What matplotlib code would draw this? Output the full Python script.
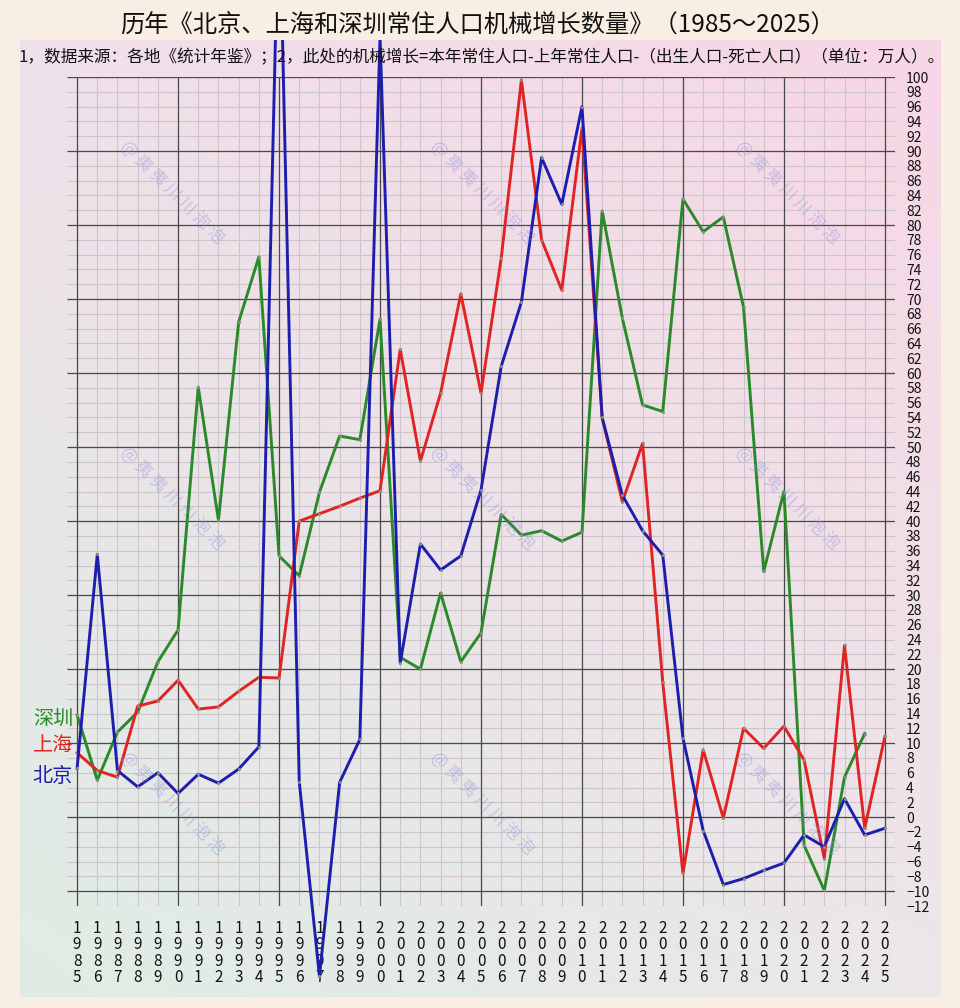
import numpy as np
import matplotlib
matplotlib.use("Agg")
import matplotlib.pyplot as plt
from matplotlib.transforms import Bbox, TransformedBbox

plt.rcParams['font.family'] = ['Noto Sans CJK SC', 'DejaVu Sans']

years = list(range(1985, 2026))

# 万人 (1995 / 2000 Beijing run off the top)
beijing = [6.6, 35.5, 6.3, 4.1, 6.0, 3.2, 5.8, 4.6, 6.5, 9.5,
           126.0, 4.8, -21.5, 4.7, 10.5, 105.5, 20.8, 36.9, 33.4, 35.3,
           44.2, 60.9, 69.6, 89.1, 82.8, 96.0, 54.0, 43.5, 38.7, 35.4,
           10.7, -1.8, -9.1, -8.3, -7.2, -6.2, -2.4, -4.0, 2.5, -2.4, -1.5]
shanghai = [8.7, 6.3, 5.4, 15.0, 15.7, 18.5, 14.6, 14.9, 17.0, 18.9,
            18.8, 40.0, 41.0, 42.0, 43.1, 44.1, 63.2, 48.1, 57.3, 70.7,
            57.3, 75.5, 99.6, 78.0, 71.2, 93.1, 53.9, 42.6, 50.5, 18.2,
            -7.6, 9.1, -0.1, 12.0, 9.3, 12.3, 7.7, -5.6, 23.2, -1.5, 10.9]
shenzhen = [13.8, 5.0, 11.5, 14.2, 21.0, 25.3, 58.1, 40.1, 66.9, 75.7,
            35.3, 32.6, 43.9, 51.5, 51.0, 67.3, 21.6, 20.0, 30.3, 21.0,
            24.9, 40.9, 38.1, 38.7, 37.3, 38.5, 81.9, 67.4, 55.7, 54.8,
            83.5, 79.1, 81.1, 68.9, 33.2, 44.0, -3.8, -9.9, 5.4, 11.3]

series = [("深圳", shenzhen, "#2a8a2a"),
          ("上海", shanghai, "#e02424"),
          ("北京", beijing, "#1e1eae")]

title = "历年《北京、上海和深圳常住人口机械增长数量》（1985～2025）"
note = ("1，数据来源：各地《统计年鉴》；2，此处的机械增长=本年常住人口-上年常住人口-"
        "（出生人口-死亡人口）（单位：万人）。")
watermark = "@ 夷 夷 川 川 泡 泡"

W, H = 960, 1008
fig = plt.figure(figsize=(W / 100, H / 100), dpi=100)
fig.patch.set_facecolor("#f8eee4")

# panel with soft gradient background
px0, px1, py0, py1 = 20, 940, 40, 997
bg = fig.add_axes([px0 / W, 1 - py1 / H, (px1 - px0) / W, (py1 - py0) / H])
tl = np.array(matplotlib.colors.to_rgb("#efe1ea"))
tr = np.array(matplotlib.colors.to_rgb("#f8d6e5"))
bl = np.array(matplotlib.colors.to_rgb("#dfede4"))
br = np.array(matplotlib.colors.to_rgb("#ebe7ea"))
u = np.linspace(0, 1, 200)[None, :, None]
v = np.linspace(0, 1, 200)[:, None, None]
img = (1 - v) * ((1 - u) * tl + u * tr) + v * ((1 - u) * bl + u * br)
bg.imshow(img, aspect="auto", interpolation="bilinear")
bg.axis("off")

ax = fig.add_axes([67 / W, 1 - 906 / H, (895 - 67) / W, (906 - 77) / H])
ax.set_facecolor("none")
ax.set_xlim(1984.5, 2025.5)
ax.set_ylim(-12, 100)
for s in ax.spines.values():
    s.set_visible(False)

# grid
ax.hlines(range(-12, 101, 2), 1984.5, 2025.5, color="#cdc5cb", lw=0.8, zorder=1)
ax.vlines(years, -12, 100, color="#cdc5cb", lw=0.8, zorder=1)
ax.hlines(range(-10, 101, 10), 1984.5, 2025.5, color="#4a4a4a", lw=0.9, zorder=1)
ax.vlines(years[::5], -12, 100, color="#4a4a4a", lw=0.9, zorder=1)

ax.yaxis.tick_right()
ax.set_yticks(range(-12, 101, 2))
ax.set_yticklabels([str(t).replace("-", "−") for t in range(-12, 101, 2)],
                   fontsize=10, color="#111111")
ax.set_xticks(years)
ax.set_xticklabels(["\n".join(str(y)) for y in years], fontsize=11,
                   color="#111111", linespacing=0.95)
ax.tick_params(axis="both", length=0)
ax.tick_params(axis="y", pad=8)
ax.tick_params(axis="x", pad=10)

panel = TransformedBbox(Bbox.from_extents(px0 / W, 1 - py1 / H, px1 / W, 1 - py0 / H),
                        fig.transFigure)
for name, vals, col in series:
    ln, = ax.plot(years[:len(vals)], vals, color=col, lw=2.1, zorder=3,
                  marker="o", markersize=2.2, markerfacecolor="#8a9080",
                  markeredgewidth=0)
    ln.set_clip_box(panel)

# city labels at the left
for (name, vals, col), yy in zip(series, [719, 745, 777]):
    fig.text(73 / W, 1 - yy / H, name, color=col, fontsize=14.5,
             ha="right", va="center")

# watermarks
for cx in [172, 482, 787]:
    for cy in [192, 498, 803]:
        fig.text(cx / W, 1 - cy / H, watermark, rotation=-45, fontsize=12,
                 color="#8c8cdc", alpha=0.4, ha="center", va="center",
                 rotation_mode="anchor", zorder=5)

fig.text(0.497, 1 - 25 / H, title, fontsize=17.5, ha="center", va="center",
         color="#111111")
fig.text(18 / W, 1 - 58 / H, note, fontsize=12, ha="left", va="center",
         color="#111111")

fig.savefig("out.png", dpi=100, facecolor=fig.get_facecolor())
